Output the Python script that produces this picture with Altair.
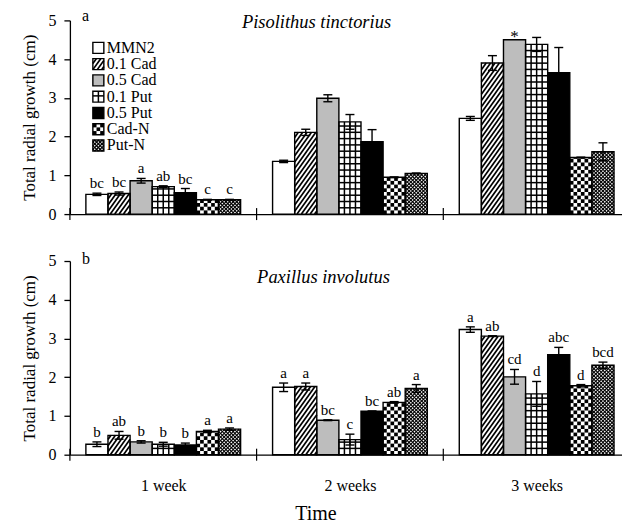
import json
import numpy as np
import pandas as pd
import altair as alt

# ---------------- data ----------------
series = ["MMN2", "0.1 Cad", "0.5 Cad", "0.1 Put", "0.5 Put", "Cad-N", "Put-N"]
weeks = ["1 week", "2 weeks", "3 weeks"]

# Pisolithus tinctorius (panel a)
pis_w1 = [0.51, 0.53, 0.86, 0.71, 0.55, 0.37, 0.37]
pis_w2 = [1.36, 2.11, 2.99, 2.38, 1.87, 0.95, 1.05]
pis_w3 = [2.47, 3.90, 4.50, 4.38, 3.65, 1.46, 1.61]
pis_e1 = [0.03, 0.04, 0.06, 0.02, 0.11, 0.01, 0.01]
pis_e2 = [0.03, 0.08, 0.09, 0.19, 0.31, 0.01, 0.01]
pis_e3 = [0.05, 0.19, 0.00, 0.18, 0.65, 0.01, 0.23]
pis_l1 = ["bc", "bc", "a", "ab", "bc", "c", "c"]
pis_l2 = ["", "", "", "", "", "", ""]
pis_l3 = ["", "", "*", "", "", "", ""]

# Paxillus involutus (panel b)
pax_w1 = [0.27, 0.50, 0.33, 0.27, 0.25, 0.60, 0.66]
pax_w2 = [1.74, 1.76, 0.89, 0.39, 1.12, 1.35, 1.71]
pax_w3 = [3.23, 3.06, 2.01, 1.57, 2.58, 1.78, 2.31]
pax_e1 = [0.06, 0.10, 0.03, 0.05, 0.05, 0.03, 0.03]
pax_e2 = [0.11, 0.09, 0.01, 0.14, 0.01, 0.02, 0.10]
pax_e3 = [0.07, 0.01, 0.19, 0.32, 0.19, 0.03, 0.08]
pax_l1 = ["b", "ab", "b", "b", "b", "a", "a"]
pax_l2 = ["a", "a", "bc", "c", "bc", "ab", "a"]
pax_l3 = ["a", "ab", "cd", "d", "abc", "d", "bcd"]

fills = ["white", "white", "#bdbdbd", "white", "black", "white", "white"]
patterns = {"0.1 Cad": "hatch", "0.1 Put": "grid", "Cad-N": "checker", "Put-N": "cross"}

FONT = "Liberation Serif"
W, H = 553, 194
PXG = 187.0           # pixels per group (x unit)
PXY = H / 5.0         # pixels per cm
BW = 22.14 / PXG      # bar width in x units
CAP = 4.5 / PXG

xs = alt.Scale(domain=[0, W / PXG], nice=False, zero=False)
ys = alt.Scale(domain=[0, 5], nice=False, zero=False)


def add_pattern(kind, xl, xr, yb, yt, lines, squares):
    w = (xr - xl) * PXG
    h = (yt - yb) * PXY
    if h <= 0.5:
        return

    def add(x0, y0, x1, y1, sw):
        lines.append({"x": xl + x0 / PXG, "y": yb + y0 / PXY,
                      "x2": xl + x1 / PXG, "y2": yb + y1 / PXY, "sw": sw})

    if kind in ("hatch", "cross"):
        specs = [(1.4, 4.4, 1.7, 1)] if kind == "hatch" else [(1.0, 3.6, 1.1, 1), (1.0, 3.6, 1.1, -1)]
        for s, ph, sw, sign in specs:
            pv = s * ph
            if sign == 1:
                c = -s * w + pv / 2
                while c < h:
                    lo = max(0.0, -c / s)
                    hi = min(w, (h - c) / s)
                    if hi - lo > 0.05:
                        add(lo, s * lo + c, hi, s * hi + c, sw)
                    c += pv
            else:
                c = pv / 2
                while c < h + s * w:
                    lo = max(0.0, (c - h) / s)
                    hi = min(w, c / s)
                    if hi - lo > 0.05:
                        add(lo, c - s * lo, hi, c - s * hi, sw)
                    c += pv
    elif kind == "grid":
        cw = 22.14 / 4
        i = 1
        while i * cw < w - 1:
            add(i * cw, 0, i * cw, h, 1.5)
            i += 1
        rh = 6.3
        j = 1
        while j * rh < h - 1:
            add(0, j * rh, w, j * rh, 1.5)
            j += 1
    elif kind == "checker":
        cell = 22.14 / 6
        ncol = max(1, int(round(w / cell)))
        cw = w / ncol
        nrow = int(np.ceil(h / cw))
        for r in range(nrow):
            for ci in range(ncol):
                if (r + ci) % 2 == 0:
                    squares.append({"x": xl + ci * cw / PXG, "x2": xl + (ci + 1) * cw / PXG,
                                    "y": yb + r * cw / PXY, "y2": yb + min((r + 1) * cw, h) / PXY})


def panel(means, errs, letters, title, tag, title_xy, tag_xy, legend, bottom):
    rects, lines, squares, errl, labs, stars = [], [], [], [], [], []
    for g in range(3):
        for k, s in enumerate(series):
            xl = g + 0.5 + (k - 3.5) * BW
            xr = xl + BW
            xc = (xl + xr) / 2
            m, e, lt = means[g][k], errs[g][k], letters[g][k]
            rects.append({"x": xl, "x2": xr, "y": 0.0, "y2": m, "series": s})
            if s in patterns:
                add_pattern(patterns[s], xl, xr, 0.0, m, lines, squares)
            if e > 0:
                errl.append({"x": xc, "y": m - e, "x2": xc, "y2": m + e})
                errl.append({"x": xc - CAP, "y": m + e, "x2": xc + CAP, "y2": m + e})
                errl.append({"x": xc - CAP, "y": m - e, "x2": xc + CAP, "y2": m - e})
            if lt == "*":
                stars.append({"x": xc, "y": m + e, "t": lt})
            elif lt:
                labs.append({"x": xc, "y": m + e, "t": lt})
    ticks = [{"x": float(g), "y": -6 / PXY, "x2": float(g), "y2": 6 / PXY} for g in range(3)]
    leg_text = []
    if legend:
        for i, s in enumerate(series):
            top_px = 42 + 16.3 * i
            yt = (214 - top_px) / PXY
            yb = yt - 11 / PXY
            xl = 23 / PXG
            xr = 34 / PXG
            rects.append({"x": xl, "x2": xr, "y": yb, "y2": yt, "series": s})
            if s in patterns:
                add_pattern(patterns[s], xl, xr, yb, yt, lines, squares)
            leg_text.append({"x": 37 / PXG, "y": (yt + yb) / 2, "t": s})

    rect_df = pd.DataFrame(rects)
    line_df = pd.DataFrame(lines)
    sq_df = pd.DataFrame(squares)
    err_df = pd.DataFrame(errl)
    tick_df = pd.DataFrame(ticks)
    lab_df = pd.DataFrame(labs)

    label_expr = "%s[round(datum.value - 0.5)]" % json.dumps(weeks)
    if bottom:
        xaxis = alt.Axis(values=[0.5, 1.5, 2.5], labelExpr=label_expr, ticks=False,
                         labelPadding=23, title="Time", titlePadding=10, titleFontSize=20,
                         titleX=246, titleAlign="center",
                         labelFontSize=16, labelFont=FONT, titleFont=FONT,
                         titleFontWeight="normal", labelColor="black", titleColor="black",
                         domainColor="black", domainWidth=1.3)
    else:
        xaxis = alt.Axis(values=[0.5, 1.5, 2.5], labels=False, ticks=False, title=None,
                         domainColor="black", domainWidth=1.3)
    yaxis = alt.Axis(values=[0, 1, 2, 3, 4, 5], tickSize=6, labelPadding=8,
                     title="Total radial growth (cm)", titlePadding=9, titleFontSize=17,
                     labelFontSize=16, labelFont=FONT, titleFont=FONT, titleFontWeight="normal",
                     labelColor="black", titleColor="black", domainColor="black",
                     tickColor="black", domainWidth=1.3, tickWidth=1.3, grid=False)

    X = lambda f="x": alt.X(f + ":Q", scale=xs, axis=xaxis)
    Y = lambda f="y": alt.Y(f + ":Q", scale=ys, axis=yaxis)

    base = alt.Chart(rect_df).mark_rect(strokeWidth=0).encode(
        x=X(), x2="x2:Q", y=Y(), y2="y2:Q",
        fill=alt.Fill("series:N", scale=alt.Scale(domain=series, range=fills), legend=None),
    )
    layers = [base]
    if len(sq_df):
        layers.append(alt.Chart(sq_df).mark_rect(color="black", strokeWidth=0).encode(
            x=X(), x2="x2:Q", y=Y(), y2="y2:Q"))
    layers.append(alt.Chart(line_df).mark_rule(color="black").encode(
        x=X(), x2="x2:Q", y=Y(), y2="y2:Q", strokeWidth=alt.StrokeWidth("sw:Q", scale=None)))
    layers.append(alt.Chart(rect_df).mark_rect(fillOpacity=0, stroke="black", strokeWidth=1.4).encode(
        x=X(), x2="x2:Q", y=Y(), y2="y2:Q"))
    layers.append(alt.Chart(err_df).mark_rule(color="black", strokeWidth=1.4).encode(
        x=X(), x2="x2:Q", y=Y(), y2="y2:Q"))
    layers.append(alt.Chart(tick_df).mark_rule(color="black", strokeWidth=1.2).encode(
        x=X(), x2="x2:Q", y=Y(), y2="y2:Q"))
    layers.append(alt.Chart(lab_df).mark_text(font=FONT, fontSize=15, dy=-5, baseline="alphabetic",
                                              color="black").encode(x=X(), y=Y(), text="t:N"))
    if stars:
        layers.append(alt.Chart(pd.DataFrame(stars)).mark_text(font=FONT, fontSize=17, dy=2,
                                                               baseline="alphabetic", color="black")
                      .encode(x=X(), y=Y(), text="t:N"))
    if leg_text:
        layers.append(alt.Chart(pd.DataFrame(leg_text)).mark_text(font=FONT, fontSize=16, align="left",
                                                                  baseline="middle", color="black")
                      .encode(x=X(), y=Y(), text="t:N"))
    layers.append(alt.Chart(pd.DataFrame({"t": [title]})).mark_text(
        font=FONT, fontSize=18.5, fontStyle="italic", align="center", baseline="alphabetic", color="black")
        .encode(x=alt.value(title_xy[0]), y=alt.value(title_xy[1]), text="t:N"))
    layers.append(alt.Chart(pd.DataFrame({"t": [tag]})).mark_text(
        font=FONT, fontSize=16, align="left", baseline="alphabetic", color="black")
        .encode(x=alt.value(tag_xy[0]), y=alt.value(tag_xy[1]), text="t:N"))
    return alt.layer(*layers).properties(width=W, height=H)


top = panel([pis_w1, pis_w2, pis_w3], [pis_e1, pis_e2, pis_e3], [pis_l1, pis_l2, pis_l3],
            "Pisolithus tinctorius", "a", (247, 8), (12, 1), True, False)
bot = panel([pax_w1, pax_w2, pax_w3], [pax_e1, pax_e2, pax_e3], [pax_l1, pax_l2, pax_l3],
            "Paxillus involutus", "b", (254, 22), (12, 3), False, True)

chart = alt.vconcat(top, bot, spacing=29).properties(
    padding={"left": 13, "top": 0, "right": 0, "bottom": 0},
    background="white",
).configure_axis(
    labelFont=FONT, titleFont=FONT, labelColor="black", titleColor="black",
    domainColor="black", tickColor="black", domainWidth=1.3, tickWidth=1.3,
    titleFontWeight="normal", grid=False
).configure_view(stroke=None)

chart.save("out.html", embed_options={"renderer": "svg", "actions": False})
